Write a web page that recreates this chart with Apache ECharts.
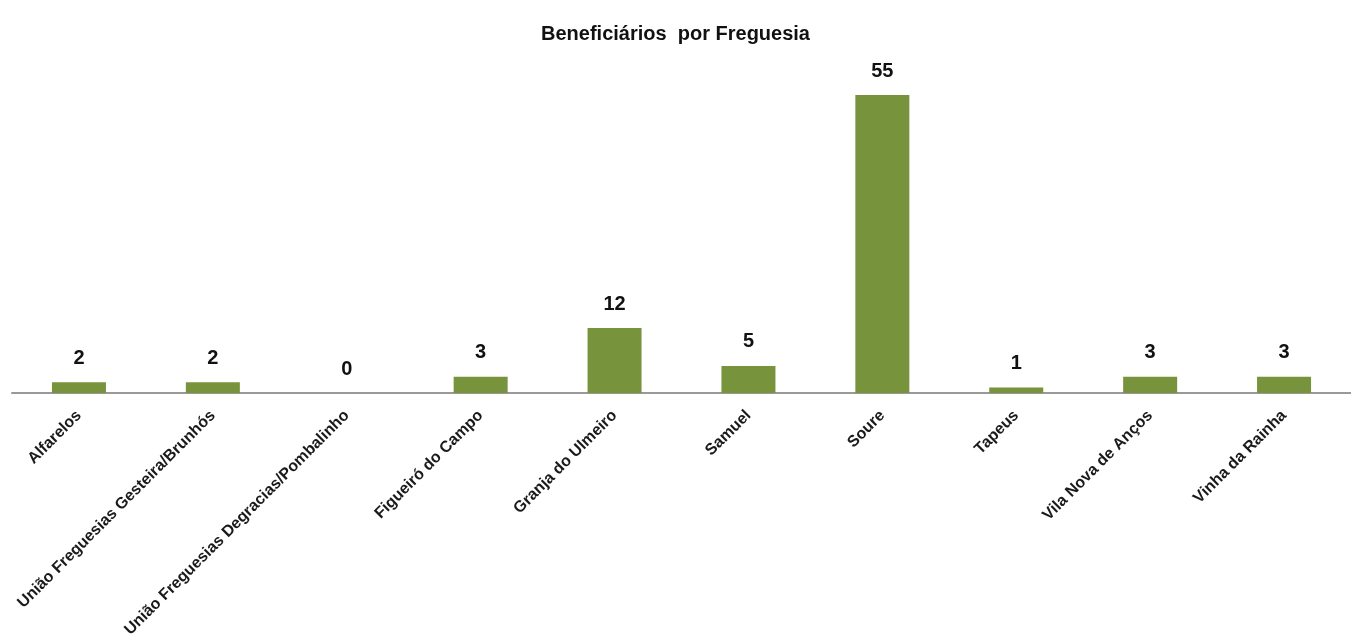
<!DOCTYPE html>
<html>
<head>
<meta charset="utf-8">
<script src="https://cdn.jsdelivr.net/npm/echarts@6/dist/echarts.min.js"></script>
<style>html,body{margin:0;padding:0;background:#fff;}#c{width:1351px;height:643px;}</style>
</head>
<body>
<div id="c"></div>
<script>
const titleText = 'Beneficiários  por Freguesia';
const categories = ['Alfarelos','União Freguesias Gesteira/Brunhós','União Freguesias Degracias/Pombalinho','Figueiró do Campo','Granja do Ulmeiro','Samuel','Soure','Tapeus','Vila Nova de Anços','Vinha da Rainha'];
const values = [2,2,0,3,12,5,55,1,3,3];

const chart = echarts.init(document.getElementById('c'));
chart.setOption({
  backgroundColor: '#ffffff',
  title: {
    text: titleText, left: 'center', top: 19,
    textStyle: {fontFamily: 'Liberation Sans, Arial', fontSize: 20, fontWeight: 'bold', color: '#111'}
  },
  grid: {left: 12, width: 1348, top: 68, height: 325, containLabel: false},
  xAxis: {
    type: 'category', data: categories,
    axisLine: {lineStyle: {color: '#999', width: 2}},
    axisTick: {show: false},
    axisLabel: {rotate: 45, interval: 0, margin: 20, color: '#1a1a1a', fontSize: 16, fontWeight: 'bold', fontFamily: 'Liberation Sans, Arial'}
  },
  yAxis: {type: 'value', min: 0, max: 60, show: false, splitLine: {show: false}},
  series: [{
    type: 'bar', data: values, barWidth: 54,
    itemStyle: {color: '#77933C'},
    label: {show: true, position: 'top', distance: 14, color: '#111', fontSize: 20, fontWeight: 'bold', fontFamily: 'Liberation Sans, Arial'}
  }]
});
</script>
</body>
</html>
